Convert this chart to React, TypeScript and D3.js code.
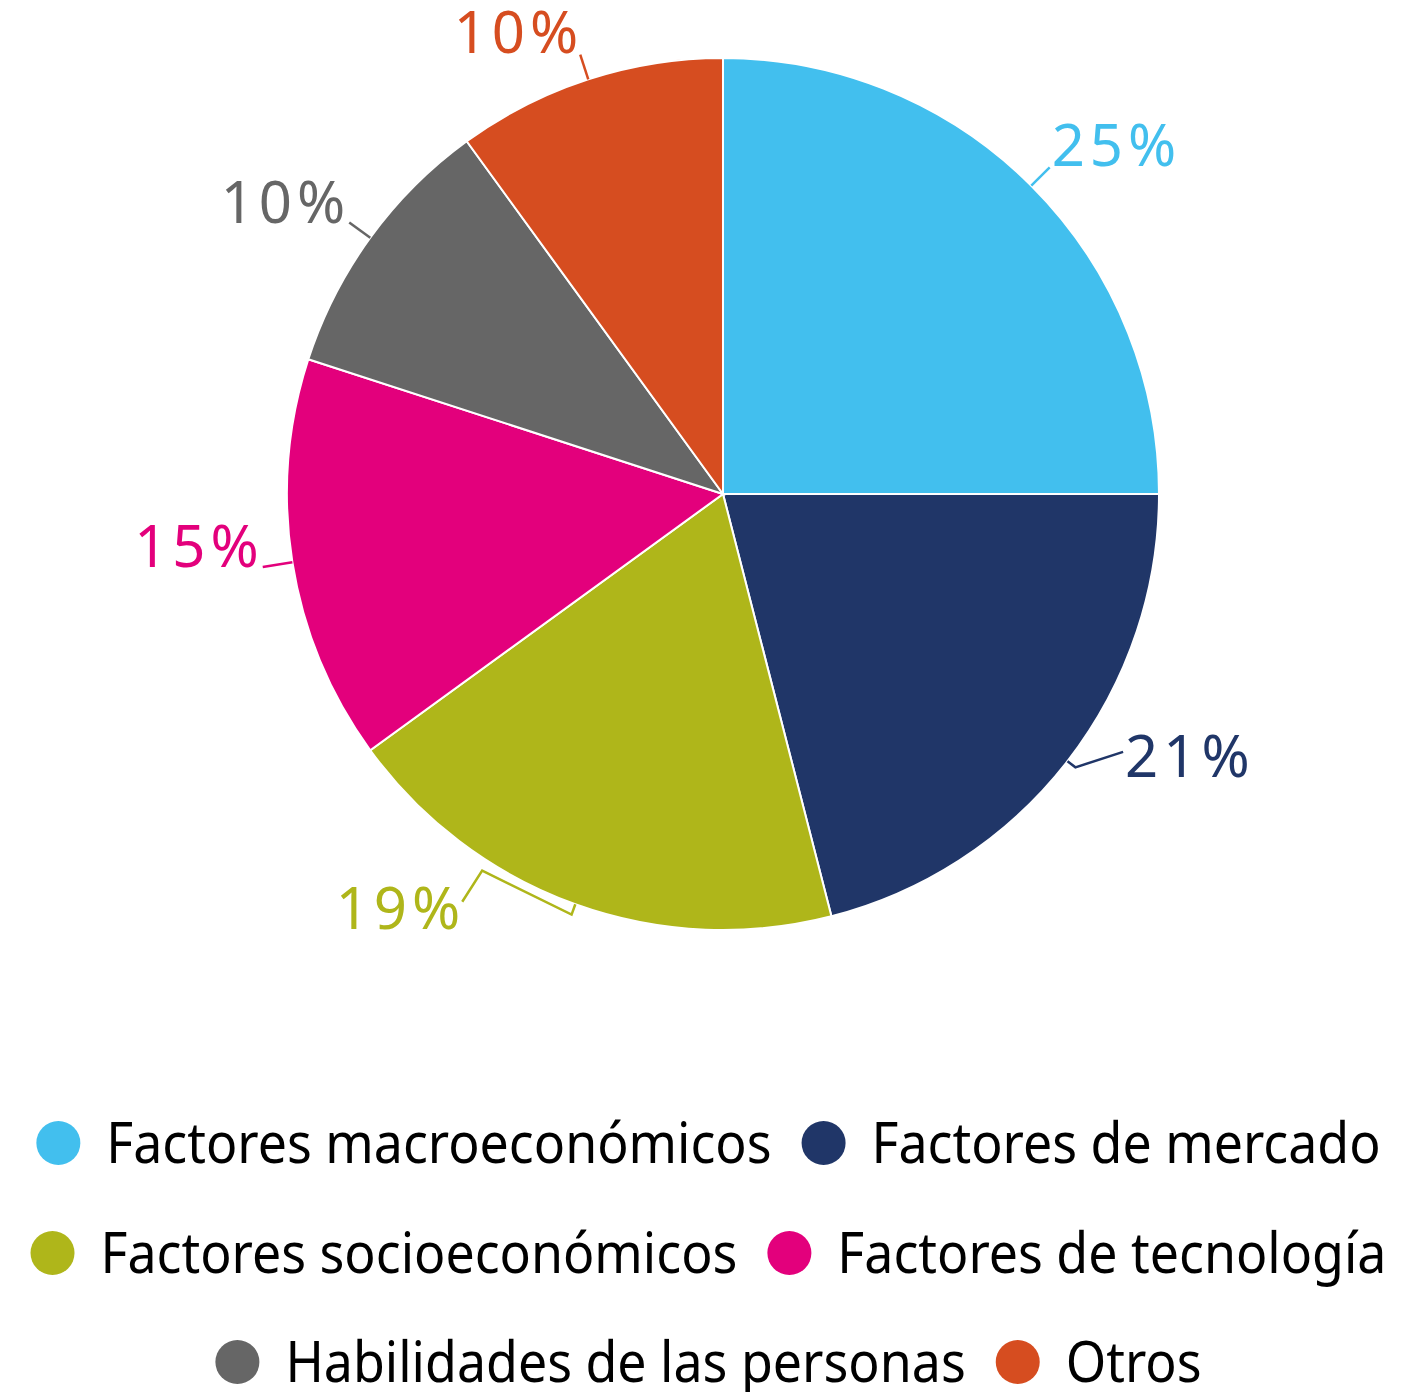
import React, { useEffect, useRef } from 'react';
import * as d3 from 'd3';

const categories = [
  'Factores macroeconómicos',
  'Factores de mercado',
  'Factores socioeconómicos',
  'Factores de tecnología',
  'Habilidades de las personas',
  'Otros',
];
const shares = [25, 21, 19, 15, 10, 10];
const colors = ['#42bfee', '#203668', '#afb61a', '#e3007c', '#666666', '#d64d20'];
const legendRows = [[0, 1], [2, 3], [4, 5]];

// leader line points as [radius, angle offset from slice middle in degrees]
const leaderShapes = [
  { pts: [[436, 0], [462, 0]], anchor: 'start', dx: 2, dy: -1 },
  { pts: [[436, 0], [446, 0], [476, -5]], anchor: 'start', dx: 2, dy: 25 },
  { pts: [[436, 0], [447, 0], [447, 12.8], [484, 12.8]], anchor: 'end', dx: 3, dy: 27 },
  { pts: [[436, 0], [466, 0]], anchor: 'end', dx: 1, dy: 0 },
  { pts: [[436, 0], [462, 0]], anchor: 'end', dx: 1, dy: 1 },
  { pts: [[436, 0], [462, 0]], anchor: 'end', dx: 3, dy: -2 },
];

const App = () => {
  const ref = useRef(null);

  useEffect(() => {
    document.body.style.margin = '0';
    const width = 1417;
    const height = 1392;
    const cx = 723;
    const cy = 494;
    const radius = 436;

    const root = d3.select(ref.current);
    root.selectAll('*').remove();

    const svg = root
      .append('svg')
      .attr('width', width)
      .attr('height', height)
      .style('display', 'block')
      .style('font-family', '"Noto Sans", sans-serif');

    const data = categories.map((name, i) => ({ name, value: shares[i], color: colors[i], i }));
    const pie = d3.pie().sort(null).value(d => d.value);
    const arc = d3.arc().innerRadius(0).outerRadius(radius);
    const arcs = pie(data);

    const g = svg.append('g').attr('transform', `translate(${cx},${cy})`);

    g.selectAll('.slice')
      .data(arcs)
      .enter()
      .append('path')
      .attr('class', 'slice')
      .attr('d', arc)
      .attr('fill', d => d.data.color)
      .attr('stroke', '#ffffff')
      .attr('stroke-width', 2);

    const polar = (r, a) => [r * Math.sin(a), -r * Math.cos(a)];

    arcs.forEach((d, i) => {
      const mid = (d.startAngle + d.endAngle) / 2;
      const shape = leaderShapes[i];
      const pts = shape.pts.map(([r, off]) => polar(r, mid + (off * Math.PI) / 180));
      g.append('path')
        .attr('d', d3.line()(pts))
        .attr('fill', 'none')
        .attr('stroke', d.data.color)
        .attr('stroke-width', 2.5);
      const last = pts[pts.length - 1];
      g.append('text')
        .attr('x', last[0] + shape.dx)
        .attr('y', last[1] + shape.dy)
        .attr('text-anchor', shape.anchor)
        .attr('fill', d.data.color)
        .style('font-size', '58px')
        .style('letter-spacing', '5px')
        .text(`${d.data.value}%`);
    });

    // legend
    const legend = svg.append('g');
    const rowY = [1143, 1253, 1362];
    const dotR = 22;
    const textGap = 48;
    const itemGap = 52;
    const squeeze = 0.91;

    legendRows.forEach((row, ri) => {
      const rowG = legend.append('g');
      let x = 0;
      row.forEach((idx, k) => {
        if (k > 0) x += itemGap;
        rowG.append('circle')
          .attr('cx', x)
          .attr('cy', rowY[ri])
          .attr('r', dotR)
          .attr('fill', colors[idx]);
        const t = rowG.append('text')
          .attr('x', x + textGap)
          .attr('y', rowY[ri] + 20)
          .attr('fill', '#000')
          .style('font-size', '57px')
          .text(categories[idx]);
        const w = t.node().getComputedTextLength() * squeeze;
        t.attr('textLength', w).attr('lengthAdjust', 'spacingAndGlyphs');
        x += textGap + w;
      });
      const rowWidth = x + dotR;
      rowG.attr('transform', `translate(${(width - rowWidth) / 2 + dotR},0)`);
    });
  }, []);

  return <div ref={ref}></div>;
};

export default App;
